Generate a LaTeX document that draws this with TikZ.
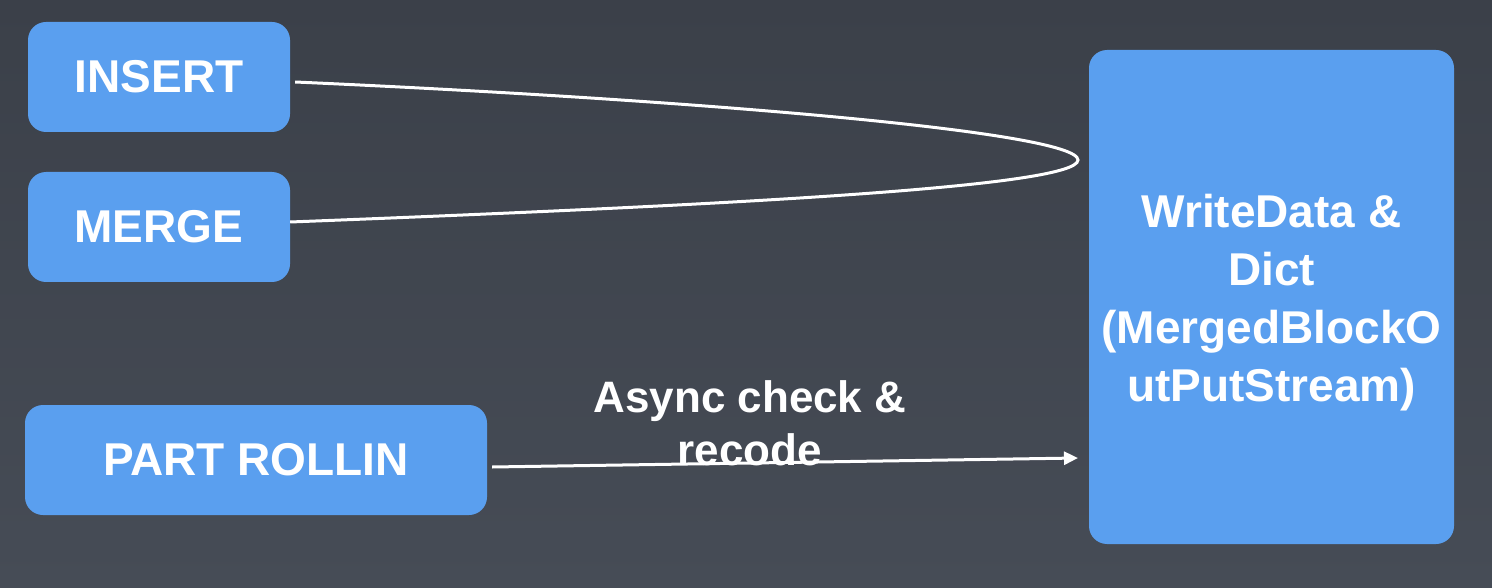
\documentclass[tikz,border=0pt]{standalone}
\usepackage{fontspec}
\setmainfont{Liberation Sans}
\usetikzlibrary{arrows.meta}
\definecolor{boxblue}{RGB}{90,159,239}
\definecolor{bgtop}{RGB}{59,64,73}
\definecolor{bgbot}{RGB}{70,76,86}
\tikzset{
  blk/.style={fill=boxblue, draw=none, rounded corners=18pt, text=white,
    font=\fontsize{46}{58}\selectfont\bfseries, align=center, inner sep=0pt},
  conn/.style={draw=white, line width=3pt},
  lbl/.style={text=white, font=\fontsize{44}{53}\selectfont\bfseries, align=center, inner sep=0pt}
}
\begin{document}
\begin{tikzpicture}[x=1pt,y=-1pt]
\useasboundingbox (0,0) rectangle (1492,588);
\shade[top color=bgtop, bottom color=bgbot] (0,0) rectangle (1492,588);
\node[blk, minimum width=262pt, minimum height=110pt] (insert) at (159,77) {INSERT};
\node[blk, minimum width=262pt, minimum height=110pt] (merge) at (159,227) {MERGE};
\node[blk, minimum width=462pt, minimum height=110pt] (rollin) at (256,460) {PART ROLLIN};
\node[blk, minimum width=365pt, minimum height=494pt] (big) at (1271.5,297) {};
\node[blk, fill=none] (bigtext) at (1271.5,303) {WriteData \&\\Dict\\(MergedBlockO\\utPutStream)};
\coordinate (tip) at (1078,160);
\coordinate (arrowend) at (1078,458);
\draw[conn] ([xshift=5pt,yshift=-5pt]insert.east) .. controls (700,100) and (1078,132) .. (tip)
  .. controls (1078,188) and (700,206) .. ([yshift=5pt]merge.east);
\draw[conn, -{Triangle[length=14pt,width=13pt]}] ([xshift=5pt,yshift=-7pt]rollin.east) -- (arrowend);
\node[lbl] (async) at (750,423) {Async check \&\\recode};
\end{tikzpicture}
\end{document}
